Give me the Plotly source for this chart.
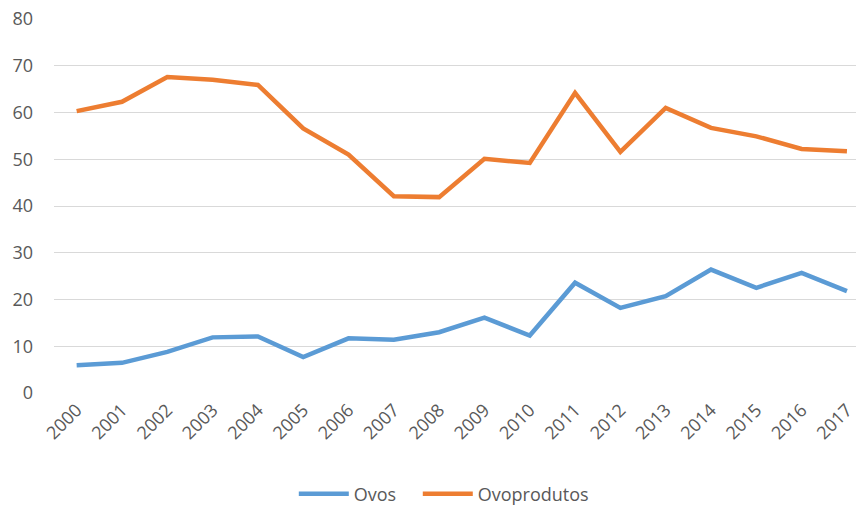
import plotly.graph_objects as go

years = [str(y) for y in range(2000, 2018)]
ovos = [5.95, 6.45, 8.8, 11.9, 12.1, 7.7, 11.7, 11.4, 13.0, 16.1, 12.3, 23.6, 18.2, 20.7, 26.4, 22.5, 25.7, 21.8]
ovoprodutos = [60.3, 62.3, 67.6, 67.0, 65.9, 56.6, 51.0, 42.1, 41.9, 50.1, 49.2, 64.2, 51.6, 61.0, 56.7, 54.9, 52.2, 51.7]
y_ticks = [0, 10, 20, 30, 40, 50, 60, 70, 80]

FONT = "Open Sans, Liberation Sans, sans-serif"
GREY = "#595959"

fig = go.Figure()
fig.add_trace(go.Scatter(x=years, y=ovos, mode="lines", name="Ovos", legend="legend",
                         line=dict(color="#5B9BD5", width=4.5)))
fig.add_trace(go.Scatter(x=years, y=ovoprodutos, mode="lines", name="Ovoprodutos", legend="legend2",
                         line=dict(color="#ED7D31", width=4.5)))

leg_common = dict(orientation="h", xanchor="left", y=-0.27, yanchor="middle",
                  font=dict(size=18, color=GREY), itemwidth=50, bgcolor="rgba(0,0,0,0)")

fig.update_layout(
    width=856, height=510,
    margin=dict(l=54, r=0, t=19, b=117, autoexpand=False),
    paper_bgcolor="white", plot_bgcolor="white",
    font=dict(family=FONT, color=GREY, size=18),
    showlegend=True,
    legend=dict(x=0.299, **leg_common),
    legend2=dict(x=0.4536, **leg_common),
    xaxis=dict(type="category", range=[-0.5, 17.2], tickangle=-45, automargin=False,
               showgrid=False, zeroline=False, showline=False, ticks="",
               tickfont=dict(size=18, color=GREY), ticklabelstandoff=2),
    yaxis=dict(range=[0, 80], tickvals=y_ticks, showgrid=True, gridcolor="#D9D9D9",
               gridwidth=1.3, zeroline=False, showline=False, ticks="", automargin=False,
               tickfont=dict(size=18, color=GREY), ticklabelstandoff=20),
)

fig.write_html("out.html", config={"displayModeBar": False},
               post_script="document.body.style.margin='0';document.body.style.overflow='hidden';")
